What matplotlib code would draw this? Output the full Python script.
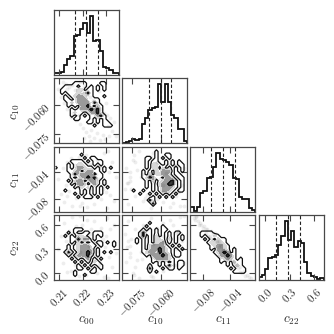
#!/usr/bin/python3
# Corner plot of the four c coefficients
import numpy as np
import matplotlib
matplotlib.use('Agg')
from matplotlib import pyplot as plt

plt.rcParams['mathtext.fontset'] = 'cm'
plt.rcParams['font.family'] = ['cmr10', 'DejaVu Serif']
plt.rcParams['axes.unicode_minus'] = False

''' Data read from the picture '''
names = ['c_{00}', 'c_{10}', 'c_{11}', 'c_{22}']
limits = [(0.2077, 0.2357), (-0.0798, -0.0463), (-0.0986, -0.0028), (-0.081, 0.72)]
ticks = [[0.21, 0.22, 0.23], [-0.075, -0.060], [-0.08, -0.04], [0.0, 0.3, 0.6]]
tick_labels = [['0.21', '0.22', '0.23'], ['-0.075', '-0.060'], ['-0.08', '-0.04'], ['0.0', '0.3', '0.6']]

# 1d histograms, 20 bins over the axis range
hist_c00 = [4, 5, 7, 21, 35, 40, 83, 85, 99, 110, 89, 126, 72, 74, 51, 17, 15, 10, 5, 4]
hist_c10 = [1, 2, 5, 9, 8, 9, 41, 54, 72, 75, 77, 126, 89, 126, 89, 61, 54, 30, 30, 5]
hist_c11 = [9, 1, 9, 39, 43, 71, 74, 96, 126, 112, 109, 105, 100, 71, 70, 32, 27, 26, 8, 4]
hist_c22 = [6, 11, 24, 47, 50, 54, 74, 95, 127, 86, 104, 70, 84, 79, 38, 14, 9, 7, 2, 4]

# quantile lines
quant_c00 = [0.2169, 0.2216, 0.2265]
quant_c10 = [-0.0660, -0.0598, -0.0545]
quant_c11 = [-0.0687, -0.0507, -0.0332]
quant_c22 = [0.136, 0.283, 0.431]

# 2d density levels, 20x20 cells, first row is the top of the panel
dens_c10_c00 = [
    '....................',
    '......1111....11....',
    '...1111.11.1.1.1....',
    '..1111122.1101.1....',
    '..1.11121241........',
    '...1.1233211...1....',
    '...11.13331111......',
    '....1213333141......',
    '....1.1.3341.21.....',
    '.....1.13334341.....',
    '.....1211.13341.....',
    '.....1.1.1.11341....',
    '......11...1.1.1....',
    '..........11.1.11...',
    '............1..111..',
]
dens_c11_c00 = [
    '....................',
    '....................',
    '........1...........',
    '.........1.11.......',
    '.....1111.1.111.....',
    '....1.1221..1.1.....',
    '1...1.133211.1.1.1..',
    '....1123.13311.1....',
    '.....1423333.11.....',
    '.....1.12343411.....',
    '....1.233.1331.1....',
    '.....1.332.131.1....',
    '......1.212.1.1.1...',
    '...1....1.1.1.1.....',
    '......1.1.1.1.1.....',
    '.......1.111.1......',
]
dens_c22_c00 = [
    '....................',
    '....................',
    '....................',
    '....................',
    '......111...........',
    '....1.1..11.111.....',
    '...1.1.221..1.1.....',
    '.....11423301.......',
    '.....1.2.1.1.11.1.1.',
    '....1.1233311.1...1.',
    '....1.123332.1......',
    '...141.13343.1.1.1..',
    '....1.133341.1......',
    '.....1.1.13.1.1.....',
    '......1.1.1.21......',
    '.......1.1.1.11.....',
    '.......11.1.1.1.....',
    '......1....11.......',
    '......1..1..........',
]
dens_c11_c10 = [
    '....................',
    '..........1.........',
    '..........1..11.....',
    '.......11.1.1.1.....',
    '.......1.11..1.1.1..',
    '.......1.221.1.1.11.',
    '.......1.22.2.1.1.1.',
    '......1.1.21333.1.1.',
    '......1.2.22331.11..',
    '......124311.331.11.',
    '.......1.2.123341.1.',
    '.......1.1.233441.1.',
    '.......1.1.133321.1.',
    '...1..1..1.13321.11.',
    '.....1..1.1.1.1.1...',
    '.........1.1.1.1....',
    '........41..........',
    '.........4..........',
]
dens_c22_c10 = [
    '....................',
    '....................',
    '........1...........',
    '.......1....1.......',
    '......1.1.1.11......',
    '.....1411.1.1.1.11..',
    '.....14.1.2.1.1.1.1.',
    '....1.1.1.221.2.1.1.',
    '....1.1.1.223.1.1...',
    '......1.233331.1.1..',
    '......1.2334321.1.1.',
    '......123314321.11..',
    '.......1.333432.11..',
    '.........1333321....',
    '.........1.1.1.1.11.',
    '........1..1.141.11.',
    '........4...1.11.1..',
    '........1.1.........',
]
dens_c22_c11 = [
    '....................',
    '....................',
    '....................',
    '....................',
    '....................',
    '...1111.............',
    '...1.1121...........',
    '....1.1.211.........',
    '.....122221.........',
    '......123321........',
    '......1.3321.1......',
    '.......12343.1......',
    '........133431......',
    '.........12321.1....',
    '.........1.1.211....',
    '...........1.121....',
    '............1.111...',
    '.............1111...',
]

# a thinned set of the samples, drawn as faint points
samp_c00 = [0.2095, 0.2105, 0.2115, 0.2122, 0.2130, 0.2135, 0.2142, 0.2150, 0.2155, 0.2160,
            0.2168, 0.2172, 0.2180, 0.2185, 0.2190, 0.2196, 0.2202, 0.2208, 0.2215, 0.2220,
            0.2226, 0.2232, 0.2238, 0.2244, 0.2250, 0.2256, 0.2262, 0.2268, 0.2274, 0.2280,
            0.2286, 0.2292, 0.2298, 0.2304, 0.2312, 0.2320, 0.2328, 0.2336, 0.2345, 0.2150,
            0.2190, 0.2230, 0.2270, 0.2310, 0.2135, 0.2205, 0.2258, 0.2300]
samp_c10 = [-0.0520, -0.0560, -0.0480, -0.0590, -0.0490, -0.0620, -0.0510, -0.0660, -0.0500, -0.0640,
            -0.0525, -0.0680, -0.0510, -0.0650, -0.0700, -0.0535, -0.0720, -0.0505, -0.0740, -0.0550,
            -0.0760, -0.0560, -0.0730, -0.0575, -0.0770, -0.0590, -0.0745, -0.0605, -0.0780, -0.0620,
            -0.0755, -0.0640, -0.0775, -0.0650, -0.0760, -0.0670, -0.0735, -0.0690, -0.0760, -0.0590,
            -0.0480, -0.0785, -0.0530, -0.0710, -0.0520, -0.0770, -0.0695, -0.0590]
samp_c11 = [-0.0500, -0.0720, -0.0350, -0.0850, -0.0600, -0.0250, -0.0680, -0.0450, -0.0900, -0.0550,
            -0.0300, -0.0780, -0.0620, -0.0180, -0.0480, -0.0860, -0.0380, -0.0700, -0.0150, -0.0920,
            -0.0530, -0.0280, -0.0760, -0.0420, -0.0880, -0.0600, -0.0220, -0.0500, -0.0340, -0.0800,
            -0.0650, -0.0120, -0.0570, -0.0940, -0.0400, -0.0740, -0.0260, -0.0830, -0.0470, -0.0200,
            -0.0900, -0.0660, -0.0310, -0.0100, -0.0760, -0.0560, -0.0430, -0.0700]
samp_c22 = [0.30, 0.46, 0.12, 0.62, 0.40, 0.02, 0.52, 0.22, 0.69, 0.36,
            0.10, 0.58, 0.50, -0.04, 0.26, 0.60, 0.16, 0.44, -0.02, 0.66,
            0.34, 0.06, 0.55, 0.24, 0.64, 0.38, 0.00, 0.28, 0.14, 0.56,
            0.42, -0.05, 0.32, 0.68, 0.20, 0.54, 0.08, 0.60, 0.25, 0.03,
            0.70, 0.48, 0.10, -0.06, 0.50, 0.40, 0.18, 0.46]

hists = [hist_c00, hist_c10, hist_c11, hist_c22]
quants = [quant_c00, quant_c10, quant_c11, quant_c22]
samples = [samp_c00, samp_c10, samp_c11, samp_c22]
dens = {(1, 0): dens_c10_c00, (2, 0): dens_c11_c00, (3, 0): dens_c22_c00,
        (2, 1): dens_c11_c10, (3, 1): dens_c22_c10, (3, 2): dens_c22_c11}

''' Layout, in pixels of the 334x334 image '''
SIZE = 334.0
COL_X = [54.0, 122.3, 190.4, 258.7]
ROW_Y = [10.0, 78.3, 146.6, 214.8]
PANEL = 65.0
INK = '#484848'
TEXT = '#2a2a2a'


def make_axes(row, col):
    ax = fig.add_axes([COL_X[col] / SIZE, 1 - (ROW_Y[row] + PANEL) / SIZE, PANEL / SIZE, PANEL / SIZE])
    for s in ax.spines.values():
        s.set_linewidth(0.9)
        s.set_color(INK)
    ax.tick_params(direction='in', length=4.3, width=0.8, color=INK, top=True, right=True,
                   labelsize=7.8, labelcolor=TEXT, pad=4.5)
    ax.set_xlim(limits[col])
    ax.set_xticks(ticks[col])
    ax.set_xticklabels([])
    return ax


def grid_from_rows(rows):
    rows = [r.ljust(20, '.') for r in rows] + ['.' * 20] * (20 - len(rows))
    z = np.array([[int(c) for c in r.replace('.', '0')] for r in rows], dtype=float)
    return z[::-1]


fig = plt.figure(figsize=(3.34, 3.34), dpi=100)

for row in range(4):
    for col in range(row + 1):
        ax = make_axes(row, col)
        if row == col:
            # 1. Histogram with the quantile lines
            edges = np.linspace(limits[col][0], limits[col][1], 21)
            ax.stairs(hists[col], edges, color='#111111', lw=1.3)
            for q in quants[col]:
                ax.axvline(q, color='#222222', ls='--', lw=0.8, dashes=(3, 2))
            ax.set_ylim(0, 1.1 * max(hists[col]))
            ax.set_yticks([])
        else:
            # 2. Faint points under filled density contours
            ax.plot(samples[col], samples[row], 'o', color='black', alpha=0.07, ms=2.8, mew=0)
            x0, x1 = limits[col]
            y0, y1 = limits[row]
            xc = x0 + (np.arange(20) + 0.5) * (x1 - x0) / 20
            yc = y0 + (np.arange(20) + 0.5) * (y1 - y0) / 20
            z = grid_from_rows(dens[(row, col)])
            ax.contourf(xc, yc, z, levels=[0.5, 1.5, 2.5, 3.5, 9],
                        colors=['white', '#d8d8d8', '#9a9a9a', '#3a3a3a'])
            ax.contour(xc, yc, z, levels=[0.5, 3.5], colors='#111111', linewidths=0.9)
            ax.set_xlim(limits[col])
            ax.set_ylim(limits[row])
            ax.set_yticks(ticks[row])
            ax.set_yticklabels([])
            if col == 0:
                ax.set_yticklabels(['$%s$' % t for t in tick_labels[row]],
                                   rotation=45, ha='right', va='center', rotation_mode='anchor')
                ax.text(16 / SIZE, 1 - (ROW_Y[row] + PANEL / 2 + 0.5) / SIZE, '$%s$' % names[row],
                        transform=fig.transFigure, rotation=90, ha='center', va='center',
                        fontsize=9.5, color=TEXT)
        if row == 3:
            ax.set_xticklabels(['$%s$' % t for t in tick_labels[col]], rotation=45, ha='center')
            ax.text((COL_X[col] + PANEL / 2) / SIZE, 1 - 320.5 / SIZE, '$%s$' % names[col],
                    transform=fig.transFigure, ha='center', va='center', fontsize=9.5, color=TEXT)

fig.savefig('out.png', dpi=100)
